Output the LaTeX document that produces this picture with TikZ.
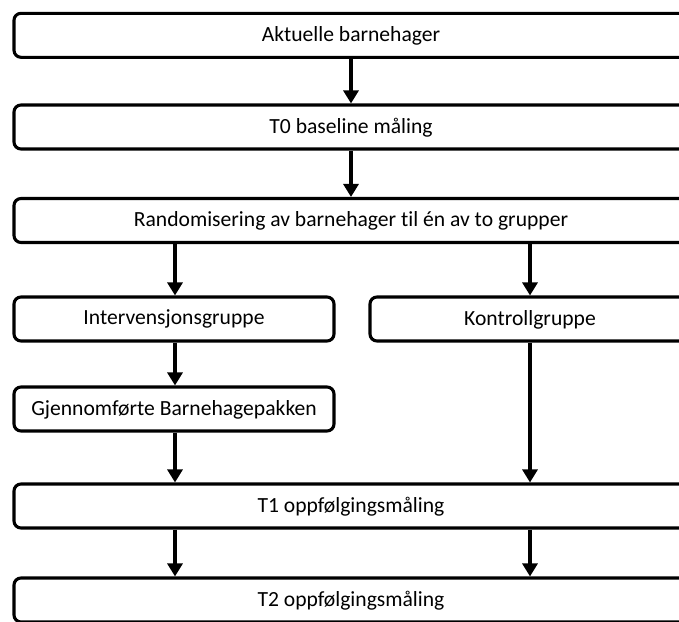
\documentclass[tikz,border=0pt]{standalone}
\usepackage{fontspec}
\setmainfont[Ligatures=NoCommon]{Carlito}
\usetikzlibrary{arrows.meta,calc}
\tikzset{
  boxstyle/.style={draw=black, line width=3.1pt, rounded corners=7pt, fill=white,
    minimum height=44pt, inner sep=0pt, align=center, text depth=3pt,
    font=\fontsize{21.6pt}{24pt}\selectfont},
  wide/.style={boxstyle, minimum width=674pt},
  half/.style={boxstyle, minimum width=320pt},
  arr/.style={line width=3.1pt, -{Triangle[width=15pt,length=13pt]}}
}
\begin{document}
\begin{tikzpicture}[x=1pt,y=-1pt]
\useasboundingbox (0,0) rectangle (679,621);
\clip (0,0) rectangle (679,621);
\node[wide] (b1) at (351,35.3) {Aktuelle barnehager};
\node[wide] (b2) at (351,127) {T0 baseline måling};
\node[wide] (b3) at (351,220.5) {Randomisering av barnehager til én av to grupper};
\node[half] (b4) at (174,319) {Intervensjonsgruppe};
\node[half] (b5) at (530,319) {Kontrollgruppe};
\node[half] (b6) at (174,409) {Gjennomførte Barnehagepakken};
\node[wide] (b7) at (351,506) {T1 oppfølgingsmåling};
\node[wide] (b8) at (351,600) {T2 oppfølgingsmåling};
\coordinate (xl) at (175,0);
\coordinate (xr) at (530,0);
\draw[arr] (b1.south) -- (b2.north);
\draw[arr] (b2.south) -- (b3.north);
\draw[arr] (xl |- b3.south) -- (xl |- b4.north);
\draw[arr] (xr |- b3.south) -- (xr |- b5.north);
\draw[arr] (xl |- b4.south) -- (xl |- b6.north);
\draw[arr] (xl |- b6.south) -- (xl |- b7.north);
\draw[arr] (xr |- b5.south) -- (xr |- b7.north);
\draw[arr] (xl |- b7.south) -- (xl |- b8.north);
\draw[arr] (xr |- b7.south) -- (xr |- b8.north);
\end{tikzpicture}
\end{document}
